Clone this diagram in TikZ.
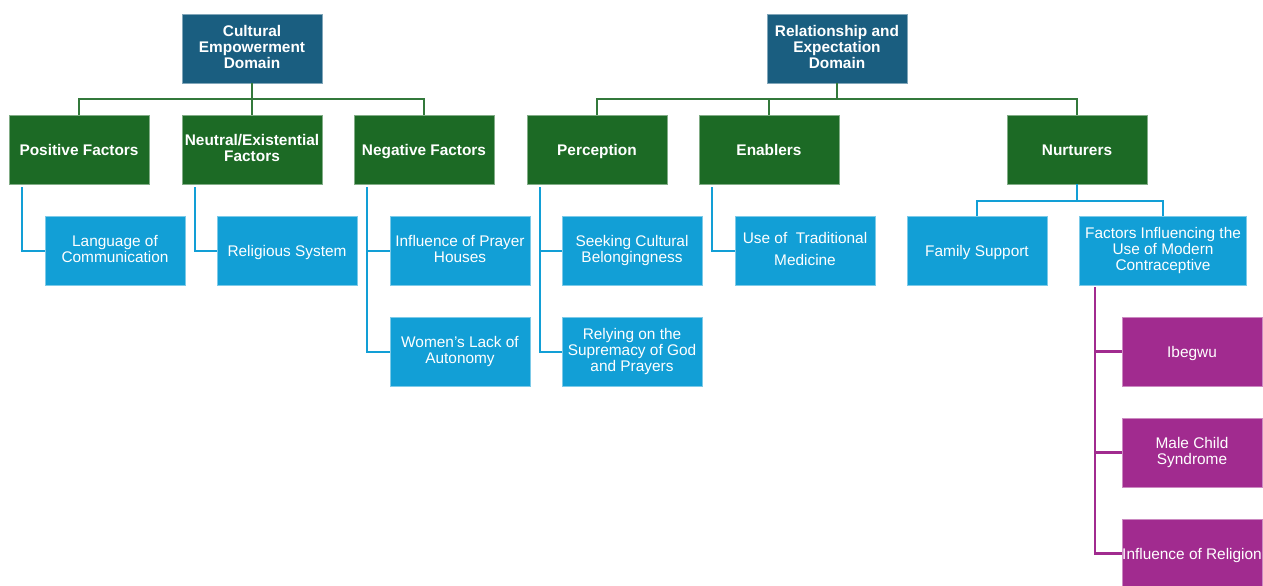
\documentclass[tikz,border=0pt]{standalone}
\usepackage{fontspec}
\setmainfont{Liberation Sans}
\usetikzlibrary{calc}

\definecolor{dombl}{HTML}{1A5E80}
\definecolor{facgr}{HTML}{1C6A25}
\definecolor{subbl}{HTML}{129FD6}
\definecolor{subpu}{HTML}{A12B8F}

\newcommand{\boxstrut}{\rule[-3.3pt]{0pt}{17.6pt}}

\tikzset{
  box/.style={minimum width=140pt, minimum height=69pt, inner sep=0pt,
    align=center, text=white, line width=0.8pt,
    execute at begin node=\boxstrut, execute at end node=\boxstrut},
  domainbox/.style={box, fill=dombl, draw=dombl!55!white,
    font=\bfseries\fontsize{15.4}{16}\selectfont},
  factorbox/.style={box, fill=facgr, draw=facgr!55!white,
    font=\bfseries\fontsize{15.4}{16}\selectfont},
  itembox/.style={box, fill=subbl, draw=subbl!55!white,
    font=\fontsize{15.4}{16}\selectfont},
  reasonbox/.style={box, fill=subpu, draw=subpu!55!white,
    font=\fontsize{15.4}{16}\selectfont},
  grline/.style={draw=facgr!90!white, line width=2pt},
  blline/.style={draw=subbl, line width=2pt},
  puline/.style={draw=subpu, line width=2.2pt}
}

\begin{document}
\begin{tikzpicture}[x=1pt,y=-1pt]
\useasboundingbox (0,0) rectangle (1263,586);

      % domains
      \node[domainbox] (cult) at (252,48.5) {Cultural\\Empowerment\\Domain};
      \node[domainbox] (rel) at (837,48.5) {Relationship and\\Expectation\\Domain};

      % factors
      \node[factorbox] (pos) at (79,149.5) {Positive Factors};
      \node[factorbox] (neu) at (252,149.5) {Neutral/Existential\\Factors};
      \node[factorbox] (neg) at (424,149.5) {Negative Factors};
      \node[factorbox] (per) at (597,149.5) {Perception};
      \node[factorbox] (ena) at (769,149.5) {Enablers};
      \node[factorbox] (nur) at (1077,149.5) {Nurturers};

      % items
      \node[itembox] (lang) at (115,250.5) {Language of\\Communication};
      \node[itembox] (relsys) at (287,250.5) {Religious System};
      \node[itembox] (pray) at (460,250.5) {Influence of Prayer\\Houses};
      \node[itembox] (auto) at (460,351.5) {Women’s Lack of\\Autonomy};
      \node[itembox] (seek) at (632,250.5) {Seeking Cultural\\Belongingness};
      \node[itembox] (god) at (632,351.5) {Relying on the\\Supremacy of God\\and Prayers};
      \node[itembox] (med) at (805,250.5) {Use of~ Traditional\\[6pt]Medicine};
      \node[itembox] (fam) at (977,250.5) {Family Support};
      \node[itembox, minimum width=167pt] (contra) at (1163,250.5)
        {Factors Influencing the\\Use of Modern\\Contraceptive};

      % contraceptive
      \node[reasonbox] (ibe) at (1192,351.5) {Ibegwu};
      \node[reasonbox] (male) at (1192,452.5) {Male Child\\Syndrome};
      \node[reasonbox] (infrel) at (1192,553.5) {Influence of Religion};

      % links
      \foreach \f in {pos,neu,neg}
      { \draw[grline] (cult.south) -- ++(0,16) -| (\f.north); }
      \foreach \f in {per,ena,nur}
      { \draw[grline] (rel.south) -- ++(0,16) -| (\f.north); }
      \foreach \f/\i in {pos/lang,neu/relsys,neg/pray,neg/auto,per/seek,per/god,ena/med}
      { \draw[blline] ($(\f.south west)+(13,3)$) |- (\i.west); }
      \foreach \i in {fam,contra}
      { \draw[blline] (nur.south) -- ++(0,17) -| (\i.north); }
      \foreach \r in {ibe,male,infrel}
      { \draw[puline] ($(contra.south west)+(16,2)$) |- (\r.west); }

\end{tikzpicture}
\end{document}
